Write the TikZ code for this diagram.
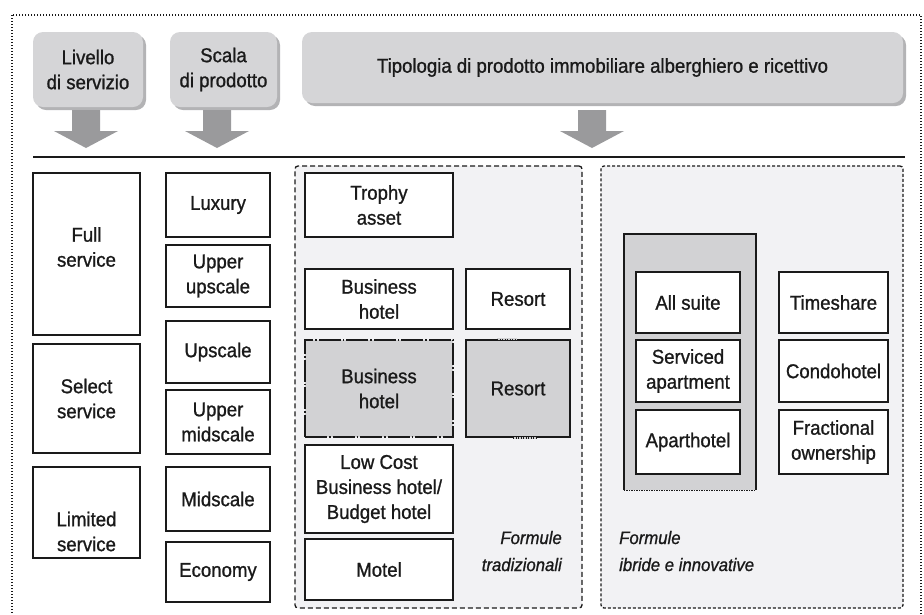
\documentclass[tikz,border=0pt]{standalone}
\usepackage{fontspec}
\setmainfont{Liberation Sans}[FakeStretch=0.93,FakeBold=1.0]
\usetikzlibrary{calc}
\definecolor{ink}{HTML}{1A1A1A}
\definecolor{headfill}{HTML}{D5D5D7}
\definecolor{headshade}{HTML}{B3B3B5}
\definecolor{arrowgray}{HTML}{9A9A9C}
\definecolor{zonefill}{HTML}{F2F2F4}
\definecolor{cellgray}{HTML}{D2D2D4}
% \cellat{style}{name}{x1}{y1}{x2}{y2}{text}: a node filling the given corners
\newcommand\cellat[7]{%
  \pgfmathsetmacro\cellw{#5-#3}\pgfmathsetmacro\cellh{#6-#4}%
  \node[#1, minimum width=\cellw pt, minimum height=\cellh pt] (#2) at ({(#3+#5)/2},{(#4+#6)/2}) {#7};}
\begin{document}
\begin{tikzpicture}[x=1pt,y=-1pt,
  txt/.style={font=\fontsize{20}{25}\selectfont, text=ink, align=center},
  cell/.style={txt, draw=ink, line width=1.6pt, fill=white, inner sep=0pt},
  graycell/.style={cell, fill=cellgray},
  header/.style={txt, fill=headfill, rounded corners=10pt, inner sep=0pt},
  shade/.style={fill=headshade, rounded corners=10pt, inner sep=0pt},
  zone/.style={fill=zonefill, draw=ink, line width=1.3pt, rounded corners=3pt, inner sep=0pt},
  note/.style={font=\fontsize{18}{27}\selectfont\itshape, text=ink, inner sep=0pt},
  blockarrow/.pic={\fill[arrowgray] (-14,0) -- (14,0) -- (14,21) -- (32,21) -- (0,38)
                    -- (-32,21) -- (-14,21) -- cycle;}]
\useasboundingbox (0,0) rectangle (924,614);

% outer dotted frame
\draw[ink, line width=1.4pt, dash pattern=on 1.4pt off 1.6pt] (12,15) rectangle (921,640);

% header boxes with a soft shade below-right
\cellat{shade}{lvlshade}{36}{35}{146}{110}{}
\cellat{header}{lvl}{33}{32}{143}{107}{Livello\\di servizio}
\cellat{shade}{scashade}{173}{35}{280}{110}{}
\cellat{header}{sca}{170}{32}{277}{107}{Scala\\di prodotto}
\cellat{shade}{tipshade}{305}{35}{906}{106}{}
\cellat{header}{tip}{302}{32}{903}{103}{Tipologia di prodotto immobiliare alberghiero e ricettivo}

% block arrows pointing down to the rule
\pic at (86,110) {blockarrow};
\pic at (217,110) {blockarrow};
\pic at (592,110) {blockarrow};

% rule under the headers
\draw[ink, line width=2pt] (33,157) -- (905,157);

% level of service
\cellat{cell, label={[txt, yshift=7pt]center:{Full\\service}}}{full}{33}{173}{140}{335}{}
\cellat{cell}{select}{33}{344}{140}{453}{Select\\service}
\cellat{cell, label={[txt, yshift=-19pt]center:{Limited\\service}}}{limited}{33}{467}{140}{558}{}

% product scale
\cellat{cell}{luxury}{166}{173}{270}{237}{Luxury}
\cellat{cell}{upperup}{166}{245}{270}{307}{Upper\\upscale}
\cellat{cell}{upscale}{166}{321}{270}{383}{Upscale}
\cellat{cell}{uppermid}{166}{390}{270}{454}{Upper\\midscale}
\cellat{cell}{midscale}{166}{467}{270}{531}{Midscale}
\cellat{cell}{economy}{166}{542}{270}{602}{Economy}

% traditional formats
\cellat{zone, dash pattern=on 5pt off 3pt}{trad}{295}{166}{582}{608}{}
\cellat{cell}{trophy}{305}{173}{453}{237}{Trophy\\asset}
\cellat{cell}{bizw}{305}{269}{453}{329}{Business\\hotel}
\cellat{cell}{resortw}{466}{269}{570}{329}{Resort}
\cellat{graycell, dash pattern=on 22pt off 2pt on 1.5pt off 2pt}{bizg}{305}{340}{453}{437}{Business\\hotel}
\cellat{graycell}{resortg}{466}{340}{570}{437}{Resort}
% short dotted stretches along the top and bottom edges of the grey resort cell
\draw[cellgray, line width=1.7pt] ($(resortg.north west)+(32,0)$) -- ($(resortg.north west)+(52,0)$)
                                  ($(resortg.south west)+(48,0)$) -- ($(resortg.south west)+(72,0)$);
\draw[ink, line width=1.4pt, dash pattern=on 1.2pt off 1.3pt]
      ($(resortg.north west)+(32,0)$) -- ($(resortg.north west)+(52,0)$)
      ($(resortg.south west)+(48,0)$) -- ($(resortg.south west)+(72,0)$);
\cellat{cell}{lowcost}{305}{445}{453}{533}{Low Cost\\Business hotel/\\Budget hotel}
\cellat{cell}{motel}{305}{539}{453}{600}{Motel}
\node[note, align=right, anchor=base east] (tradlbl) at (562,571) {Formule\\tradizionali};

% hybrid and innovative formats
\cellat{zone, dash pattern=on 3pt off 2pt}{innov}{601}{166}{903}{608}{}
\cellat{fill=cellgray, inner sep=0pt}{suites}{624}{234}{756}{490}{}
\draw[ink, line width=1.6pt] (suites.south west) -- (suites.north west) -- (suites.north east) -- (suites.south east);
\draw[ink, line width=1.4pt, dash pattern=on 1.2pt off 1.3pt] (suites.south west) -- (suites.south east);
\cellat{cell}{allsuite}{636}{272}{740}{333}{All suite}
\cellat{cell}{serviced}{636}{340}{740}{402}{Serviced\\apartment}
\cellat{cell}{apart}{636}{410}{740}{474}{Aparthotel}
\cellat{cell}{timeshare}{779}{272}{888}{333}{Timeshare}
\cellat{cell}{condo}{779}{340}{888}{402}{Condohotel}
\cellat{cell}{fractional}{779}{410}{888}{474}{Fractional\\ownership}
\node[note, align=left, anchor=base west] (innovlbl) at (619,571) {Formule\\ibride e innovative};
\end{tikzpicture}
\end{document}
